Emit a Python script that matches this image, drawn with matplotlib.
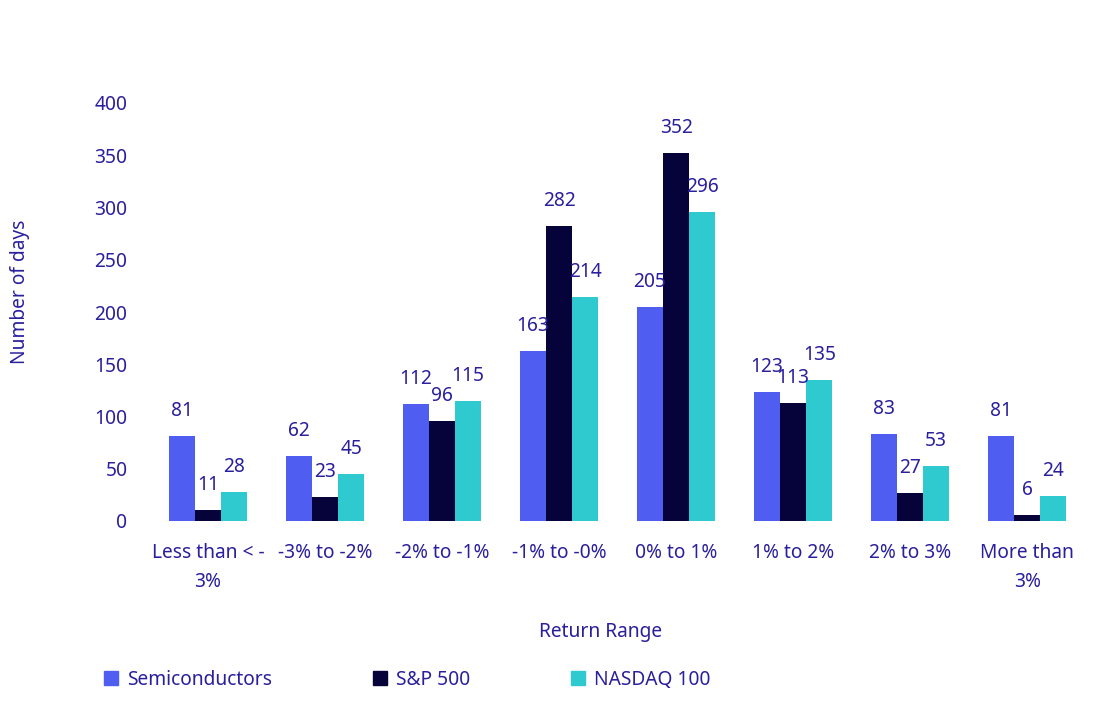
import numpy as np
import matplotlib.pyplot as plt
from matplotlib.patches import Patch

categories = ["Less than < -\n3%", "-3% to -2%", "-2% to -1%", "-1% to -0%",
              "0% to 1%", "1% to 2%", "2% to 3%", "More than\n3%"]
semis = [81, 62, 112, 163, 205, 123, 83, 81]
sp500 = [11, 23, 96, 282, 352, 113, 27, 6]
nasdaq = [28, 45, 115, 214, 296, 135, 53, 24]
series_names = ["Semiconductors", "S&P 500", "NASDAQ 100"]
y_ticks = [0, 50, 100, 150, 200, 250, 300, 350, 400]

TEXT = "#2a1f9c"
COLORS = ["#4f5ef0", "#05033a", "#2ecacf"]
FS = 13.8

plt.rcParams['font.family'] = ['Noto Sans', 'DejaVu Sans']
plt.rcParams['font.size'] = FS

fig = plt.figure(figsize=(11, 7.09), dpi=100)
ax = fig.add_axes([0.136, 1 - 521 / 709, 0.851, 418 / 709])

x = np.arange(len(categories))
w = 0.223
for i, (vals, name) in enumerate(zip([semis, sp500, nasdaq], series_names)):
    pos = x + (i - 1) * w
    ax.bar(pos, vals, width=w, color=COLORS[i], label=name)
    for px, v in zip(pos, vals):
        ax.annotate(str(v), (px, v), xytext=(0, 18), textcoords="offset points",
                    ha="center", va="center", color=TEXT, fontsize=FS)

ax.set_xlim(-0.5, len(categories) - 0.5)
ax.set_ylim(0, 400)
ax.set_yticks(y_ticks)
ax.set_xticks(x)
ax.set_xticklabels(categories, linespacing=1.6, va="top")
ax.tick_params(axis="both", length=0, colors=TEXT, labelsize=FS)
ax.tick_params(axis="y", pad=16)
ax.tick_params(axis="x", pad=16)
for s in ax.spines.values():
    s.set_visible(False)

fig.text(20 / 1100, 1 - 292 / 709, "Number of days", rotation=90,
         ha="center", va="center", color=TEXT, fontsize=FS)
fig.text(601 / 1100, 1 - 632 / 709, "Return Range", ha="center", va="center",
         color=TEXT, fontsize=FS)

handles = [Patch(color=c) for c in COLORS]
leg = fig.legend(handles, series_names, loc="center left",
                 bbox_to_anchor=(87 / 1100, 1 - 680 / 709), ncol=3, frameon=False,
                 handlelength=0.72, handleheight=0.72, handletextpad=0.45,
                 columnspacing=5.3, fontsize=FS)
for t in leg.get_texts():
    t.set_color(TEXT)

fig.savefig("out.png", dpi=100)
